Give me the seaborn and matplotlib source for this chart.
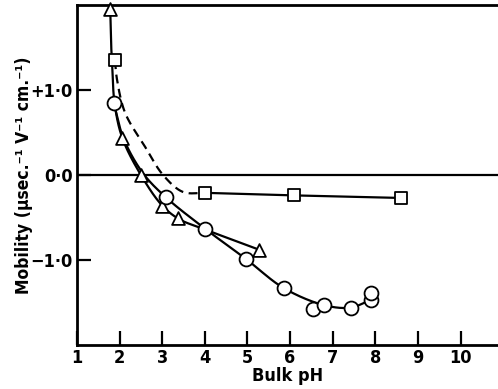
import numpy as np
import pandas as pd
import matplotlib
matplotlib.use("Agg")
import matplotlib.pyplot as plt
import seaborn as sns

# ---- data ----
tri_x = [1.78, 2.06, 2.50, 3.00, 3.37, 5.28]
tri_y = [1.95, 0.44, 0.00, -0.36, -0.51, -0.88]
circ_x = [1.86, 3.08, 4.00, 4.97, 5.85, 6.53, 6.79, 7.42, 7.89, 7.89]
circ_y = [0.85, -0.26, -0.63, -0.99, -1.33, -1.58, -1.53, -1.56, -1.47, -1.39]
sq_x = [1.89, 4.01, 6.10, 8.60]
sq_y = [1.35, -0.21, -0.24, -0.27]

# hand-drawn guide curves
tri_curve_x = [1.78, 1.80, 1.83, 1.88, 2.06, 2.50, 3.00, 3.40, 4.00, 5.28]
tri_curve_y = [1.95, 1.55, 1.25, 0.85, 0.44, 0.00, -0.36, -0.52, -0.64, -0.88]
circ_curve_x = [1.86, 2.10, 2.55, 3.08, 4.00, 4.97, 5.85, 6.79, 7.42, 7.89]
circ_curve_y = [0.85, 0.42, 0.02, -0.26, -0.63, -0.99, -1.33, -1.53, -1.56, -1.47]
sq_dash_x = [1.89, 1.94, 2.13, 2.60, 3.02, 3.49, 4.01]
sq_dash_y = [1.35, 1.12, 0.73, 0.33, 0.00, -0.20, -0.21]

xticks = [1, 2, 3, 4, 5, 6, 7, 8, 9, 10]
yticks = [1.0, 0.0, -1.0]
ytick_labels = ["+1\u00b70", "0\u00b70", "\u22121\u00b70"]

XS, YS = 42.6, 85.0  # pixel scale per unit, for smooth curves


def smooth(xs, ys, n=40):
    P = np.column_stack([np.asarray(xs) * XS, np.asarray(ys) * YS])
    P = np.vstack([2 * P[0] - P[1], P, 2 * P[-1] - P[-2]])
    out = []
    for i in range(1, len(P) - 2):
        p0, p1, p2, p3 = P[i - 1], P[i], P[i + 1], P[i + 2]
        t0 = 0.0
        t1 = t0 + np.linalg.norm(p1 - p0) ** 0.5 + 1e-9
        t2 = t1 + np.linalg.norm(p2 - p1) ** 0.5 + 1e-9
        t3 = t2 + np.linalg.norm(p3 - p2) ** 0.5 + 1e-9
        for t in np.linspace(t1, t2, n, endpoint=False):
            a1 = (t1 - t) / (t1 - t0) * p0 + (t - t0) / (t1 - t0) * p1
            a2 = (t2 - t) / (t2 - t1) * p1 + (t - t1) / (t2 - t1) * p2
            a3 = (t3 - t) / (t3 - t2) * p2 + (t - t2) / (t3 - t2) * p3
            b1 = (t2 - t) / (t2 - t0) * a1 + (t - t0) / (t2 - t0) * a2
            b2 = (t3 - t) / (t3 - t1) * a2 + (t - t1) / (t3 - t1) * a3
            c = (t2 - t) / (t2 - t1) * b1 + (t - t1) / (t2 - t1) * b2
            out.append(c)
    out.append(P[-2])
    out = np.array(out)
    return out[:, 0] / XS, out[:, 1] / YS


sns.set_theme(style="white")
plt.rcParams["font.family"] = ["DejaVu Sans"]
plt.rcParams["font.stretch"] = "condensed"
for key in ["text.color", "axes.labelcolor", "xtick.color", "ytick.color"]:
    plt.rcParams[key] = "black"

fig = plt.figure(figsize=(4.98, 3.89), dpi=100)
ax = fig.add_axes([77 / 498, 1 - 345 / 389, 1 - 77 / 498, (345 - 5) / 389])

lw = 1.6
ax.axhline(0, color="black", lw=1.6, zorder=1)

for cx, cy, ls in [(tri_curve_x, tri_curve_y, "-"),
                   (circ_curve_x, circ_curve_y, "-"),
                   (sq_dash_x, sq_dash_y, (0, (4, 2.5)))]:
    sx, sy = smooth(cx, cy)
    df = pd.DataFrame({"x": sx, "y": sy})
    sns.lineplot(data=df, x="x", y="y", sort=False, estimator=None,
                 color="black", lw=lw, linestyle=ls, ax=ax, zorder=2)

sq_df = pd.DataFrame({"x": sq_x, "y": sq_y})
sns.lineplot(data=sq_df.iloc[1:], x="x", y="y", sort=False, estimator=None,
             color="black", lw=lw, ax=ax, zorder=2)

mk = dict(facecolor="white", edgecolor="black", linewidth=1.3, zorder=3,
          ax=ax, clip_on=False)
sns.scatterplot(x=tri_x, y=tri_y, marker="^", s=85, **mk)
sns.scatterplot(x=circ_x, y=circ_y, marker="o", s=100, **mk)
sns.scatterplot(x=sq_x, y=sq_y, marker="s", s=80, **mk)

ax.set_xlim(1, 10.88)
ax.set_ylim(-2.0, 2.0)
ax.set_xticks(xticks)
ax.set_xticklabels([str(v) for v in xticks], fontsize=13, fontweight="bold")
ax.set_yticks(yticks)
ax.set_yticklabels(ytick_labels, fontsize=13, fontweight="bold")
ax.tick_params(axis="x", direction="in", length=10, width=1.6, pad=3,
               bottom=True, colors="black")
ax.tick_params(axis="y", direction="in", length=10, width=1.6, pad=3,
               left=True, colors="black")
for side in ["left", "bottom", "top"]:
    ax.spines[side].set_visible(True)
    ax.spines[side].set_color("black")
    ax.spines[side].set_linewidth(2.0)
ax.spines["right"].set_visible(False)

ax.set_xlabel("Bulk pH", fontsize=13, fontweight="bold", labelpad=0,
              color="black")
ax.set_ylabel("Mobility (\u00b5sec.\u207b\u00b9 V\u207b\u00b9 cm.\u207b\u00b9)",
              fontsize=12.5, fontweight="bold", labelpad=-2, color="black")

fig.savefig("out.png", dpi=100)
